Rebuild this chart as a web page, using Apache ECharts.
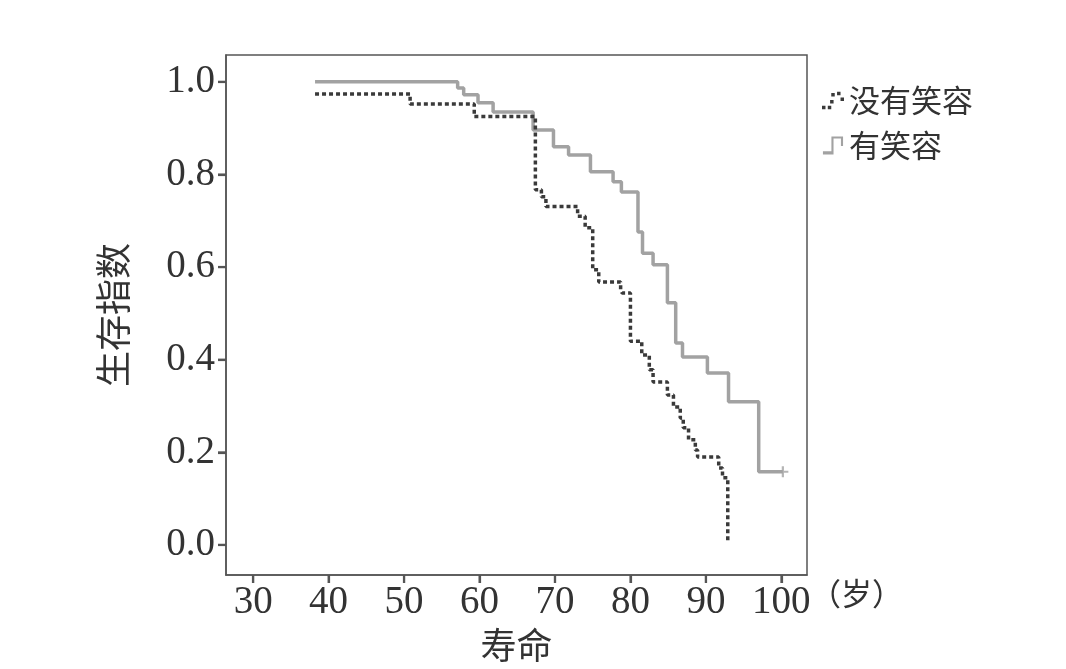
<!DOCTYPE html>
<html>
<head>
<meta charset="utf-8">
<script src="https://cdn.jsdelivr.net/npm/echarts@6/dist/echarts.min.js"></script>
<style>
html,body{margin:0;padding:0;background:#fff;}
#chart{width:1066px;height:669px;}
</style>
</head>
<body>
<div id="chart"></div>
<script>
// ---- data ----
const seriesNames = ['没有笑容', '有笑容'];
// 有笑容 (smiling): step start times and survival levels
const smileTimes = [38.2, 57.1, 57.9, 59.8, 61.8, 67.1, 69.8, 71.8, 74.7, 77.7, 78.8, 81.0, 81.6, 83.0, 84.9, 86.0, 86.9, 90.2, 93.0, 97.0, 100.2];
const smileSurv  = [1.0, 0.987, 0.972, 0.955, 0.935, 0.896, 0.86, 0.842, 0.806, 0.784, 0.762, 0.676, 0.63, 0.605, 0.523, 0.436, 0.406, 0.371, 0.309, 0.158, 0.158];
// 没有笑容 (not smiling)
const noSmileTimes = [38.2, 50.8, 59.3, 67.4, 68.2, 68.8, 73.0, 74.0, 75.0, 75.8, 78.7, 78.9, 80.0, 81.5, 82.5, 83.0, 84.9, 85.7, 86.6, 87.0, 87.7, 88.6, 88.9, 91.7, 92.2, 92.9];
const noSmileSurv  = [0.974, 0.952, 0.925, 0.767, 0.752, 0.731, 0.71, 0.685, 0.594, 0.568, 0.551, 0.544, 0.44, 0.41, 0.378, 0.352, 0.324, 0.298, 0.274, 0.253, 0.227, 0.205, 0.19, 0.166, 0.145, 0.01];
// censored marks
const smileCensorTimes = [100.2];
const smileCensorSurv = [0.158];
// axis ticks
const xTicks = [30, 40, 50, 60, 70, 80, 90, 100];
const yTicks = [0, 0.2, 0.4, 0.6, 0.8, 1.0];
const xTitle = '寿命';
const yTitle = '生存指数';
const unitText = '（岁）';

const X_MIN = 26.4, X_MAX = 103.4, Y_MIN = -0.065, Y_MAX = 1.058;
const zip = (a, b) => a.map((v, i) => [v, b[i]]);
const cjk = 'Noto Sans CJK SC';
const serif = 'Liberation Serif';
const darkCol = '#3a3a3a';
const greyCol = '#a2a2a2';
const axisCol = '#555';

const chart = echarts.init(document.getElementById('chart'), null, {renderer: 'canvas'});
chart.setOption({
  backgroundColor: '#fff',
  animation: false,
  grid: {left: 226, right: 259, top: 55, bottom: 94, show: true, borderColor: axisCol, borderWidth: 1.5, backgroundColor: 'transparent'},
  xAxis: {
    type: 'value', min: X_MIN, max: X_MAX,
    name: xTitle, nameLocation: 'middle', nameGap: 40,
    nameTextStyle: {fontFamily: cjk, fontSize: 36, color: '#333'},
    axisLine: {show: true, onZero: false, lineStyle: {color: axisCol, width: 1.5}},
    axisTick: {show: true, inside: false, customValues: xTicks, length: 8, lineStyle: {color: axisCol, width: 2.2}},
    axisLabel: {customValues: xTicks, fontFamily: serif, fontSize: 39, color: '#333', margin: 8},
    splitLine: {show: false}
  },
  yAxis: {
    type: 'value', min: Y_MIN, max: Y_MAX,
    name: yTitle, nameLocation: 'middle', nameGap: 95, nameRotate: 90,
    nameTextStyle: {fontFamily: cjk, fontSize: 36, color: '#333'},
    axisLine: {show: true, onZero: false, lineStyle: {color: axisCol, width: 1.5}},
    axisTick: {show: true, inside: false, customValues: yTicks, length: 8, lineStyle: {color: axisCol, width: 2.2}},
    axisLabel: {customValues: yTicks, fontFamily: serif, fontSize: 39, color: '#333', margin: 11,
      formatter: v => v.toFixed(1)},
    splitLine: {show: false}
  },
  legend: {
    orient: 'vertical', left: 817, top: 80, itemGap: 14,
    itemWidth: 22, itemHeight: 18,
    textStyle: {fontFamily: cjk, fontSize: 31, lineHeight: 31, color: '#333'},
    data: [
      {name: seriesNames[0], icon: 'path://M0,14h3v3h-3zM5,14h3v3h-3zM7,9h3v3h-3zM8,3h3v3h-3zM13,2h3v3h-3zM16,7h3v3h-3z', itemStyle: {color: darkCol}},
      {name: seriesNames[1], icon: 'path://M0,15L8,15L8,1L19,1L19,10L17,10L17,3L10,3L10,18L0,18Z', itemStyle: {color: greyCol}}
    ]
  },
  graphic: [{
    type: 'text', left: 810, top: 578,
    style: {text: unitText, fontFamily: cjk, fontSize: 31, fill: '#333'}
  }],
  series: [
    {
      name: seriesNames[0], type: 'line', step: 'end', showSymbol: false, symbol: 'none',
      data: zip(noSmileTimes, noSmileSurv),
      lineStyle: {color: darkCol, width: 3.5, type: [4, 3]},
      itemStyle: {color: darkCol}, z: 3
    },
    {
      name: seriesNames[1], type: 'line', step: 'end', showSymbol: false, symbol: 'none',
      data: zip(smileTimes, smileSurv),
      lineStyle: {color: greyCol, width: 3.5},
      itemStyle: {color: greyCol}, z: 2
    },
    {
      name: 'censor', type: 'scatter', symbol: 'path://M4,0h2v10h-2zM0,4h10v2h-10z', symbolSize: 11,
      data: zip(smileCensorTimes, smileCensorSurv),
      itemStyle: {color: greyCol}, z: 2, silent: true
    },
    {
      name: 'xticks', type: 'scatter', clip: false, silent: true, z: 6,
      symbol: 'rect', symbolSize: [2.2, 8], symbolOffset: [0, 4],
      data: xTicks.map(v => [v, Y_MIN]),
      itemStyle: {color: axisCol}
    },
    {
      name: 'yticks', type: 'scatter', clip: false, silent: true, z: 6,
      symbol: 'rect', symbolSize: [8, 2.2], symbolOffset: [-4, 0],
      data: yTicks.map(v => [X_MIN, v]),
      itemStyle: {color: axisCol}
    }
  ]
});
</script>
</body>
</html>
